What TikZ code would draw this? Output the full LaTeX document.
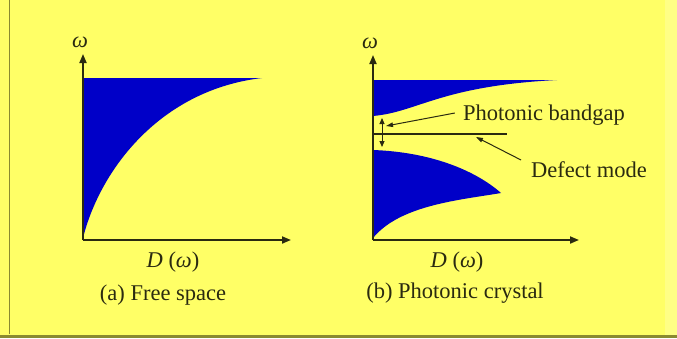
\documentclass[tikz,border=0pt]{standalone}
\usepackage{fontspec}
\setmainfont{Liberation Serif}
\usetikzlibrary{arrows.meta}
\definecolor{bg}{HTML}{FFFF66}
\definecolor{bandblue}{HTML}{0000C8}
\definecolor{ink}{HTML}{2A2A10}
\definecolor{rim}{HTML}{8A8A30}
\tikzset{
  axis/.style={draw=ink, line width=1.8pt, -{Triangle[length=9pt,width=7pt]}},
  band/.style={fill=bandblue, draw=none},
  lbl/.style={text=ink, font=\fontsize{22.5}{26}\selectfont, inner sep=0pt},
  pointer/.style={draw=ink, line width=1pt, -{Triangle[length=7pt,width=4.5pt]}},
  gaparrow/.style={draw=ink, line width=1pt, {Triangle[length=6pt,width=5pt]}-{Triangle[length=6pt,width=5pt]}}
}
\begin{document}
\begin{tikzpicture}[x=1pt,y=-1pt]
\useasboundingbox (0,0) rectangle (677,338);
\fill[bg] (0,0) rectangle (677,338);
\fill[white!20!bg] (665,0) rectangle (677,338);
\draw[rim, line width=1.5pt] (9.5,0) -- (9.5,334);
\fill[rim] (0,334.5) rectangle (677,338);

% ---------- (a) free space ----------
\coordinate (oa) at (83,240);
\coordinate (ya) at (83,54);
\coordinate (xa) at (291,240);
\fill[band] (83,238) .. controls (100,170) and (160,90) .. (262,78) -- (83,78) -- cycle;
\draw[axis] (oa) -- (ya);
\draw[axis] (oa) -- (xa);
\node[lbl] (wa) at (80,42) {\textit{ω}};
\node[lbl] (da) at (173,262) {\textit{D} (\textit{ω})};
\node[lbl] (ca) at (163,295) {(a) Free space};

% ---------- (b) photonic crystal ----------
\coordinate (ob) at (373,240);
\coordinate (yb) at (373,55);
\coordinate (xb) at (579,240);
\fill[band] (373,80) -- (557,80) .. controls (440,86) and (418,112) .. (373,116) -- cycle;
\fill[band] (373,150) .. controls (430,152) and (475,170) .. (501,193)
            .. controls (460,200) and (400,205) .. (373,238) -- cycle;
\draw[axis] (ob) -- (yb);
\draw[axis] (ob) -- (xb);
\node[lbl] (wb) at (370,43) {\textit{ω}};
\node[lbl] (db) at (457,262) {\textit{D} (\textit{ω})};
\node[lbl] (cb) at (455,293) {(b) Photonic crystal};

% defect mode line
\coordinate (dl) at (373,134);
\coordinate (dr) at (507,134);
\draw[ink, line width=1.4pt] (dl) -- (dr);
% bandgap double arrow
\coordinate (gt) at (382,118);
\coordinate (gb) at (382,147);
\draw[gaparrow] (gt) -- (gb);

% labels and pointers
\node[lbl] (pbg) at (544,115) {Photonic bandgap};
\node[lbl] (dm) at (589,170) {Defect mode};
\coordinate (pbgtip) at (386,126);
\coordinate (dmtip) at (476,137);
\draw[pointer] (pbg.west) ++(-8,-2) coordinate (pbgs) -- (pbgtip);
\draw[pointer] (dm.west) ++(-10,-10) coordinate (dms) -- (dmtip);
\end{tikzpicture}
\end{document}
